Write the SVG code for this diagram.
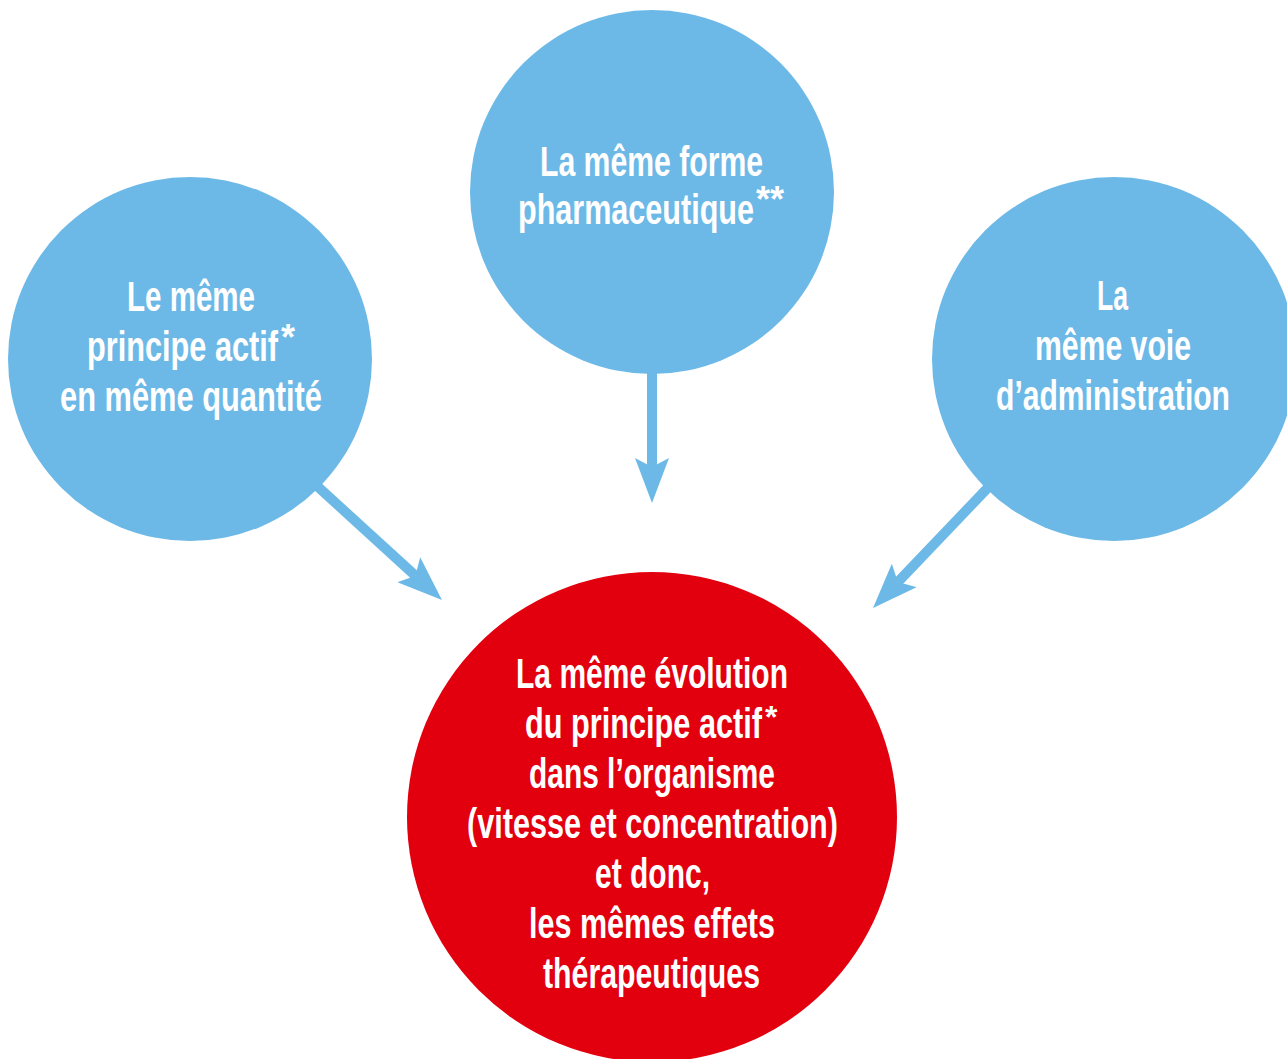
<svg xmlns="http://www.w3.org/2000/svg" width="1287" height="1059" viewBox="0 0 1287 1059">
<defs>
<style>
.blue{fill:#6cb9e7}
.red{fill:#e2000f}
.t{font-family:"Liberation Sans",Arial,sans-serif;font-weight:bold;font-size:42px;fill:#ffffff}
.ast{font-size:36px}
.conn{stroke:#6cb9e7;stroke-width:10;fill:none}
</style>
<marker id="ah" markerUnits="userSpaceOnUse" viewBox="0 0 45 34" refX="9" refY="17" markerWidth="45" markerHeight="34" orient="auto">
<path d="M0,0 L45,17 L0,34 L9,17 Z" fill="#6cb9e7"/>
</marker>
</defs>
<rect width="1287" height="1059" fill="#ffffff"/>
<g id="node-left">
<circle class="blue" cx="190" cy="359" r="182"/>
<text class="t" x="127" y="311" textLength="128" lengthAdjust="spacingAndGlyphs">Le même</text>
<text class="t" x="87" y="361"><tspan textLength="191" lengthAdjust="spacingAndGlyphs">principe actif</tspan><tspan class="ast" x="281" y="350">*</tspan></text>
<text class="t" x="60" y="411" textLength="262" lengthAdjust="spacingAndGlyphs">en même quantité</text>
</g>
<g id="node-top">
<circle class="blue" cx="652" cy="192" r="182"/>
<text class="t" x="540" y="176" textLength="223" lengthAdjust="spacingAndGlyphs">La même forme</text>
<text class="t" x="518" y="224"><tspan textLength="236" lengthAdjust="spacingAndGlyphs">pharmaceutique</tspan><tspan class="ast" x="756" y="212">**</tspan></text>
</g>
<g id="node-right">
<circle class="blue" cx="1114" cy="359" r="182"/>
<text class="t" x="1097" y="310" textLength="31" lengthAdjust="spacingAndGlyphs">La</text>
<text class="t" x="1035" y="360" textLength="156" lengthAdjust="spacingAndGlyphs">même voie</text>
<text class="t" x="996" y="410" textLength="234" lengthAdjust="spacingAndGlyphs">d’administration</text>
</g>
<g id="node-bottom">
<circle class="red" cx="652" cy="817" r="245"/>
<text class="t" x="516" y="688" textLength="272" lengthAdjust="spacingAndGlyphs">La même évolution</text>
<text class="t" x="525" y="738"><tspan textLength="237" lengthAdjust="spacingAndGlyphs">du principe actif</tspan><tspan class="ast" x="765" y="728" style="font-size:32px">*</tspan></text>
<text class="t" x="529" y="788" textLength="246" lengthAdjust="spacingAndGlyphs">dans l’organisme</text>
<text class="t" x="467" y="838" textLength="371" lengthAdjust="spacingAndGlyphs">(vitesse et concentration)</text>
<text class="t" x="595" y="888" textLength="115" lengthAdjust="spacingAndGlyphs">et donc,</text>
<text class="t" x="529" y="938" textLength="246" lengthAdjust="spacingAndGlyphs">les mêmes effets</text>
<text class="t" x="543" y="988" textLength="217" lengthAdjust="spacingAndGlyphs">thérapeutiques</text>
</g>
<g id="connectors">
<line class="conn" x1="652" y1="370" x2="652" y2="467" marker-end="url(#ah)"/>
<line class="conn" x1="305" y1="475" x2="415.4" y2="575.8" marker-end="url(#ah)"/>
<line class="conn" x1="1000" y1="475" x2="897.9" y2="582" marker-end="url(#ah)"/>
</g>
</svg>
